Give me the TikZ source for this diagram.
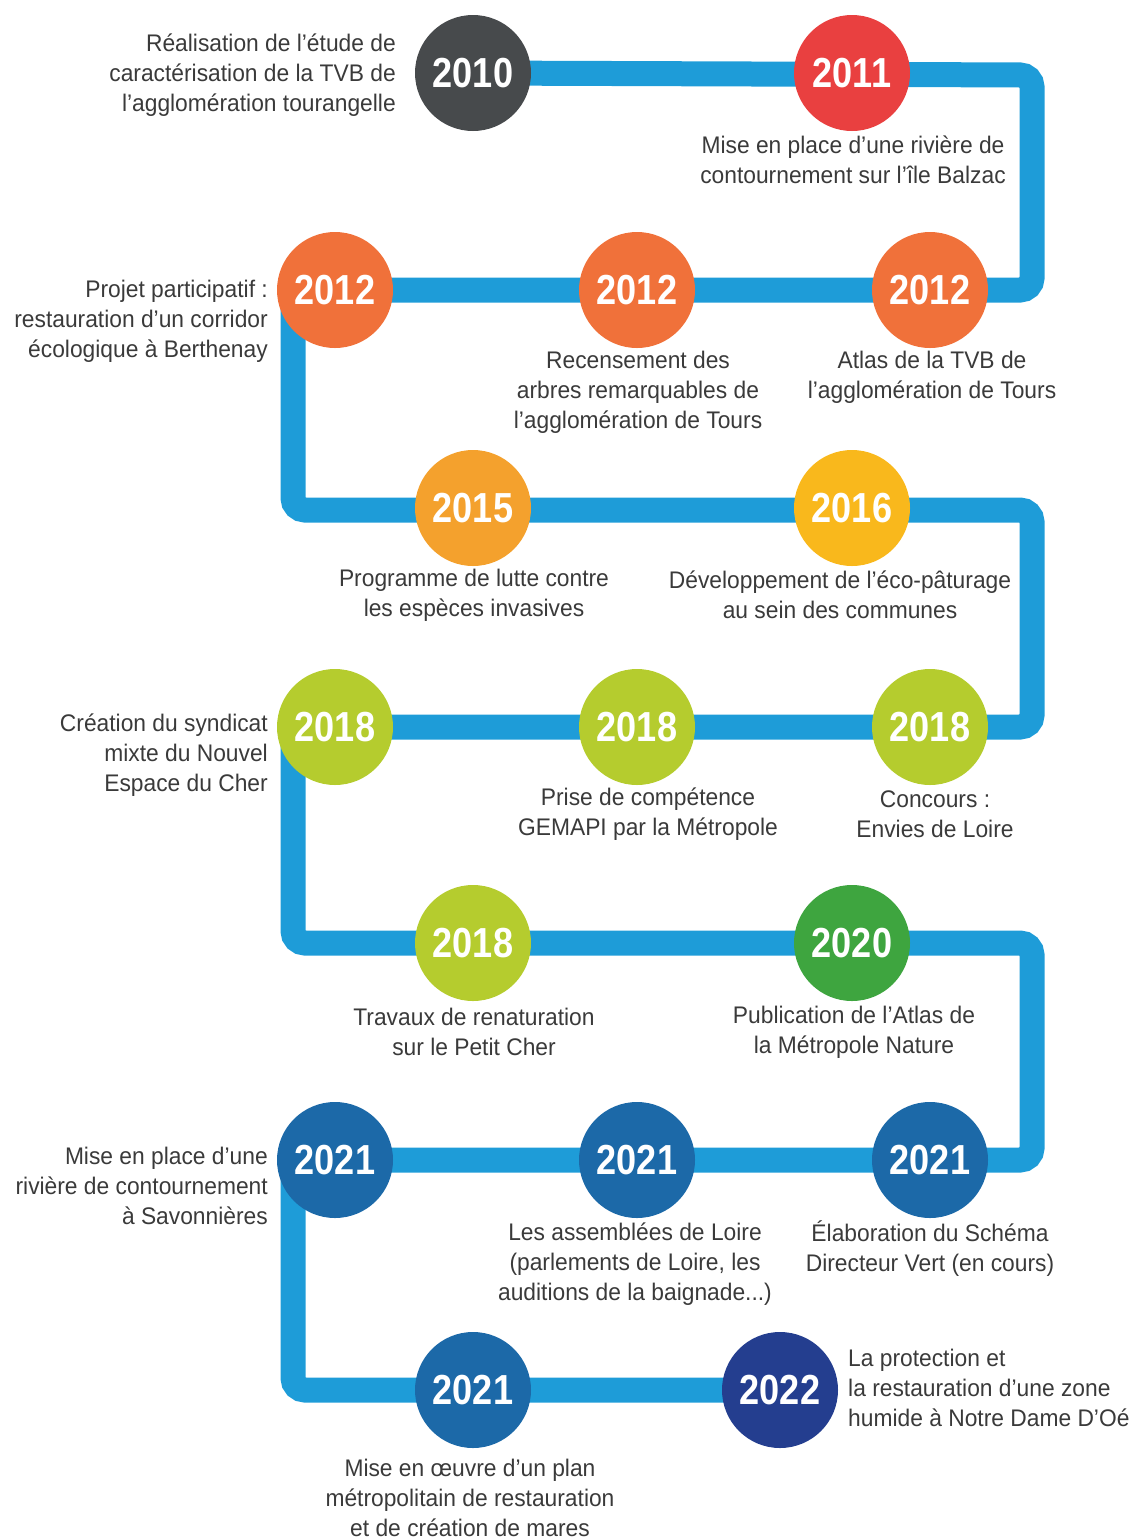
\documentclass[tikz,border=0pt]{standalone}
\usepackage{fontspec}
\setmainfont{Liberation Sans}[FakeStretch=0.95]
\newfontfamily\yearfont{Liberation Sans}[FakeStretch=0.86]
\usetikzlibrary{backgrounds}
\definecolor{band}{HTML}{1E9CD8}
\definecolor{txt}{HTML}{3A3A3A}
\definecolor{cgray}{HTML}{474A4C}
\definecolor{cred}{HTML}{E94040}
\definecolor{corange}{HTML}{F0713A}
\definecolor{corangeb}{HTML}{F4A12D}
\definecolor{cyellow}{HTML}{F9B81C}
\definecolor{clime}{HTML}{B5CC2E}
\definecolor{cgreen}{HTML}{3EA53F}
\definecolor{cblue}{HTML}{1C69A8}
\definecolor{cnavy}{HTML}{243E8F}
\tikzset{
  yearnode/.style={circle, minimum size=116pt, inner sep=0pt, text=white,
    font=\yearfont\bfseries\fontsize{42}{42}\selectfont},
  lbl/.style={text=txt, font=\fontsize{24}{30}\selectfont, align=center, inner sep=0pt},
  lblr/.style={lbl, align=right, anchor=east},
  lbll/.style={lbl, align=left, anchor=west},
  bandline/.style={draw=band, line width=25pt, rounded corners=12pt}
}
\begin{document}
\begin{tikzpicture}[x=1pt,y=-1pt]
\useasboundingbox (0,0) rectangle (1137,1540);
% circles
\node[yearnode, fill=cgray]   (a1) at (473,73) {2010};
\node[yearnode, fill=cred]    (a2) at (852,73) {2011};
\node[yearnode, fill=corange] (b1) at (335,290) {2012};
\node[yearnode, fill=corange] (b2) at (637,290) {2012};
\node[yearnode, fill=corange] (b3) at (930,290) {2012};
\node[yearnode, fill=corangeb](c1) at (473,508) {2015};
\node[yearnode, fill=cyellow] (c2) at (852,508) {2016};
\node[yearnode, fill=clime]   (d1) at (335,727) {2018};
\node[yearnode, fill=clime]   (d2) at (637,727) {2018};
\node[yearnode, fill=clime]   (d3) at (930,727) {2018};
\node[yearnode, fill=clime]   (e1) at (473,943) {2018};
\node[yearnode, fill=cgreen]  (e2) at (852,943) {2020};
\node[yearnode, fill=cblue]   (f1) at (335,1160) {2021};
\node[yearnode, fill=cblue]   (f2) at (637,1160) {2021};
\node[yearnode, fill=cblue]   (f3) at (930,1160) {2021};
\node[yearnode, fill=cblue]   (g1) at (473,1390) {2021};
\node[yearnode, fill=cnavy]   (g2) at (780,1390) {2022};
% corners
\coordinate (k1) at (1032,75);
\coordinate (k2) at (1032,290);
\coordinate (k3) at (293,290);
\coordinate (k4) at (293,510);
\coordinate (k5) at (1032,510);
\coordinate (k6) at (1032,727);
\coordinate (k7) at (293,727);
\coordinate (k8) at (293,943);
\coordinate (k9) at (1032,943);
\coordinate (k10) at (1032,1160);
\coordinate (k11) at (293,1160);
\coordinate (k12) at (293,1390);
\begin{scope}[on background layer]
\draw[bandline] (a1.center) -- (k1) -- (k2) -- (k3) -- (k4) -- (k5) -- (k6) -- (k7)
  -- (k8) -- (k9) -- (k10) -- (k11) -- (k12) -- (g2.center);
\end{scope}
% labels
\node[lblr] (ta1) at (396,75) {Réalisation de l'étude de\\caractérisation de la TVB de\\l'agglomération tourangelle};
\node[lbl] (ta2) at (853,160) {Mise en place d'une rivière de\\contournement sur l'île Balzac};
\node[lblr] (tb1) at (268,321) {Projet participatif :\\restauration d'un corridor\\écologique à Berthenay};
\node[lbl] (tb2) at (638,392) {Recensement des\\arbres remarquables de\\l'agglomération de Tours};
\node[lbl] (tb3) at (932,377) {Atlas de la TVB de\\l'agglomération de Tours};
\node[lbl] (tc1) at (474,595) {Programme de lutte contre\\les espèces invasives};
\node[lbl] (tc2) at (840,595) {Développement de l'éco-pâturage\\au sein des communes};
\node[lblr] (td1) at (268,755) {Création du syndicat\\mixte du Nouvel\\Espace du Cher};
\node[lbl] (td2) at (648,814) {Prise de compétence\\GEMAPI par la Métropole};
\node[lbl] (td3) at (935,814) {Concours :\\Envies de Loire};
\node[lbl] (te1) at (474,1032) {Travaux de renaturation\\sur le Petit Cher};
\node[lbl] (te2) at (854,1032) {Publication de l'Atlas de\\la Métropole Nature};
\node[lblr] (tf1) at (268,1186) {Mise en place d'une\\rivière de contournement\\à Savonnières};
\node[lbl] (tf2) at (635,1264) {Les assemblées de Loire\\(parlements de Loire, les\\auditions de la baignade...)};
\node[lbl] (tf3) at (930,1249) {Élaboration du Schéma\\Directeur Vert (en cours)};
\node[lbl] (tg1) at (470,1498) {Mise en œuvre d'un plan\\métropolitain de restauration\\et de création de mares};
\node[lbll] (tg2) at (848,1388) {La protection et\\la restauration d'une zone\\humide à Notre Dame D'Oé};
\end{tikzpicture}
\end{document}
